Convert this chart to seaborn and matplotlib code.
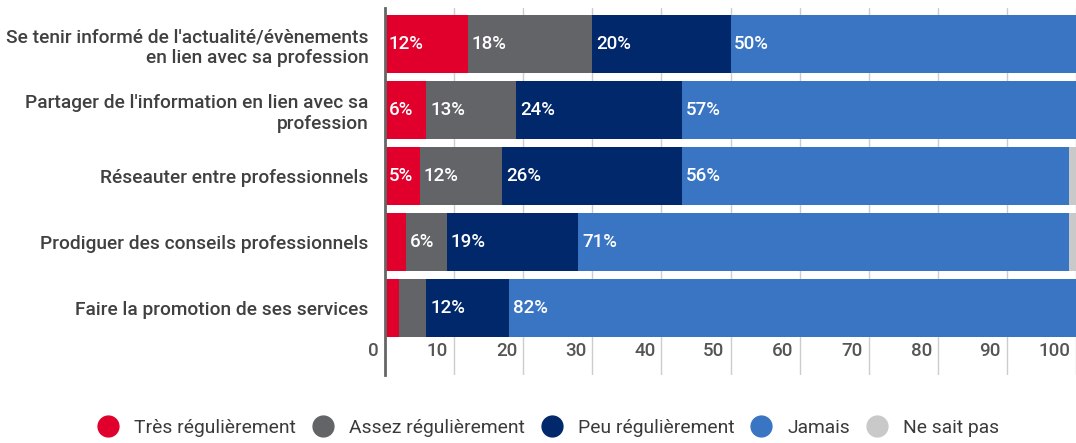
import matplotlib
matplotlib.use("Agg")
import matplotlib.pyplot as plt
import matplotlib.transforms as mtransforms
from matplotlib.lines import Line2D
import seaborn as sns
import pandas as pd
import numpy as np

categories = [
    "Se tenir informé de l'actualité/évènements\nen lien avec sa profession",
    "Partager de l'information en lien avec sa\nprofession",
    "Réseauter entre professionnels",
    "Prodiguer des conseils professionnels",
    "Faire la promotion de ses services",
]
series_names = ["Très régulièrement", "Assez régulièrement", "Peu régulièrement", "Jamais", "Ne sait pas"]
tres = [12, 6, 5, 3, 2]
assez = [18, 13, 12, 6, 4]
peu = [20, 24, 26, 19, 12]
jamais = [50, 57, 56, 71, 82]
nsp = [0, 0, 1, 1, 0]
colors = ["#E0002B", "#636467", "#00286A", "#3A75C3", "#C9C9C9"]
x_ticks = [0, 10, 20, 30, 40, 50, 60, 70, 80, 90, 100]

values = [tres, assez, peu, jamais, nsp]

sns.set_theme(style="white")
plt.rcParams["font.family"] = ["Roboto", "DejaVu Sans"]

fig = plt.figure(figsize=(10.76, 4.43), dpi=100)
W, H = 1076, 443
ax = fig.add_axes([385 / W, 1 - 375 / H, (W - 385) / W, (375 - 8) / H])

vals = np.array(values, dtype=float)
cum = np.cumsum(vals, axis=0)
starts = cum - vals

# draw cumulative sums from the last series to the first
for i in reversed(range(len(series_names))):
    df = pd.DataFrame({"cat": categories, "val": cum[i]})
    sns.barplot(data=df, x="val", y="cat", orient="h", color=colors[i],
                saturation=1, width=0.88, ax=ax, linewidth=0, zorder=2)

# value labels
for i in range(len(series_names)):
    for j in range(len(categories)):
        v = vals[i, j]
        if v >= 5:
            ax.text(starts[i, j] + 0.55, j, f"{int(v)}%", color="white",
                    ha="left", va="center", fontsize=13.5, fontweight=500, zorder=5)

ax.set_xlim(0, 691 / 6.93)
ax.set_ylim(4 + 67 / 66, -0.5 - 3 / 66)
ax.set_xlabel("")
ax.set_ylabel("")
ax.set_xticks(x_ticks)
ax.set_xticklabels([str(t) for t in x_ticks])
ax.xaxis.grid(True, color="#CCCCCC", linewidth=1, zorder=0)
ax.set_axisbelow(True)
for s in ["top", "right", "bottom"]:
    ax.spines[s].set_visible(False)
ax.spines["left"].set_color("#666666")
ax.spines["left"].set_linewidth(2)
ax.spines["left"].set_zorder(6)

ax.tick_params(axis="x", length=0, pad=-24, labelsize=13.5, labelcolor="#555555")
ax.tick_params(axis="y", length=0, pad=12, labelsize=13.8, labelcolor="#404040")
offset = mtransforms.ScaledTranslation(-6 / 100, 0, fig.dpi_scale_trans)
for lab in ax.get_xticklabels():
    lab.set_horizontalalignment("right")
    lab.set_fontweight(500)
    lab.set_transform(lab.get_transform() + offset)
for lab in ax.get_yticklabels():
    lab.set_fontweight(500)
    lab.set_linespacing(1.22)

handles = [Line2D([0], [0], marker="o", linestyle="", markersize=15,
                  markerfacecolor=c, markeredgecolor=c) for c in colors]
fig.legend(handles, series_names, loc="center", bbox_to_anchor=(0.5055, 1 - 428 / H),
           ncol=5, frameon=False, fontsize=13.9, handletextpad=0.35, columnspacing=0.4,
           labelcolor="#3A3A3A")

fig.savefig("out.png", dpi=100)
